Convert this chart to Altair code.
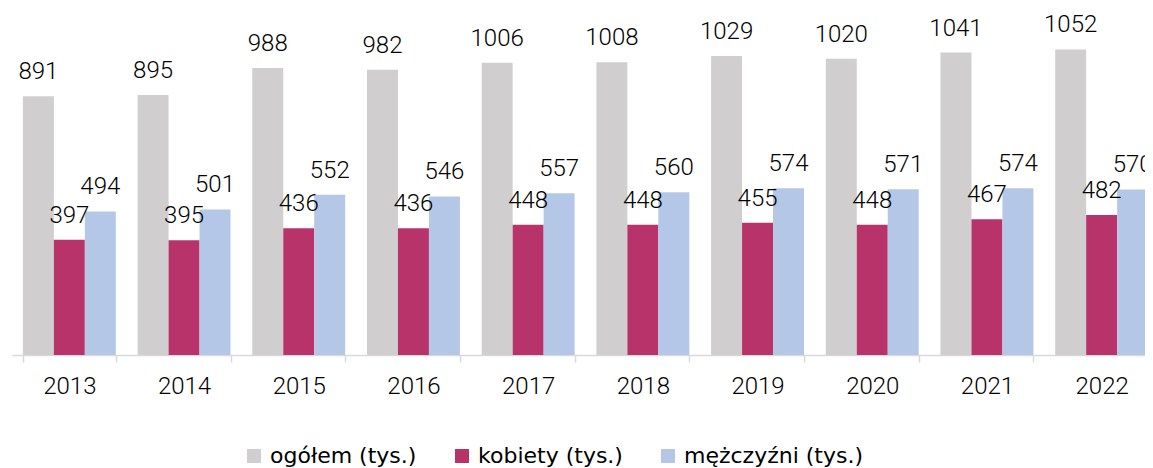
import altair as alt
import pandas as pd

years = ["2013", "2014", "2015", "2016", "2017", "2018", "2019", "2020", "2021", "2022"]
series = ["ogółem (tys.)", "kobiety (tys.)", "mężczyźni (tys.)"]
ogolem = [891, 895, 988, 982, 1006, 1008, 1029, 1020, 1041, 1052]
kobiety = [397, 395, 436, 436, 448, 448, 455, 448, 467, 482]
mezczyzni = [494, 501, 552, 546, 557, 560, 574, 571, 574, 570]
colors = ["#D0CECE", "#B8336A", "#B4C7E7"]

rows = []
for vals, name in zip([ogolem, kobiety, mezczyzni], series):
    for y, v in zip(years, vals):
        rows.append({"rok": y, "seria": name, "wartosc": v})
df = pd.DataFrame(rows)

NUM_FONT = "Roboto, Lato, sans-serif"

x = alt.X("rok:N", sort=years, title=None,
          scale=alt.Scale(range=[0, 1147], paddingInner=0.19, paddingOuter=0.095),
          axis=alt.Axis(labelAngle=0, tickBand="extent", domainColor="#D9D9D9", domainWidth=1.5,
                        tickColor="#D9D9D9", tickWidth=1.5, tickSize=7, labelPadding=12,
                        labelFont=NUM_FONT, labelFontSize=24, labelFontWeight=300,
                        labelColor="#000000", grid=False))
xo = alt.XOffset("seria:N", sort=series, scale=alt.Scale(domain=series))
y = alt.Y("wartosc:Q", axis=None, scale=alt.Scale(domain=[0, 1194.5], nice=False, zero=True))

bars = alt.Chart(df).mark_bar().encode(
    x=x, xOffset=xo, y=y,
    color=alt.Color("seria:N", sort=series,
                    scale=alt.Scale(domain=series, range=colors),
                    legend=alt.Legend(title=None, orient="none", direction="horizontal",
                                      legendX=231, legendY=437, symbolType="square",
                                      symbolSize=196, symbolStrokeWidth=0, labelFont="DejaVu Sans",
                                      labelFontSize=22, labelColor="#000000", labelOffset=5,
                                      columnPadding=34, labelLimit=400)),
)

labels = alt.Chart(df).mark_text(baseline="alphabetic", dy=-17, font=NUM_FONT, fontSize=24,
                                  fontWeight=300, color="#000000").encode(
    x=x, xOffset=xo, y=y, text=alt.Text("wartosc:Q"),
)

chart = alt.layer(bars, labels).properties(
    width=1133, height=347,
    padding={"left": 4, "top": 0, "right": 0, "bottom": 113},
    autosize=alt.AutoSizeParams(type="none"),
).configure_view(stroke=None)

chart.save("out.html", embed_options={"renderer": "svg", "actions": False})
